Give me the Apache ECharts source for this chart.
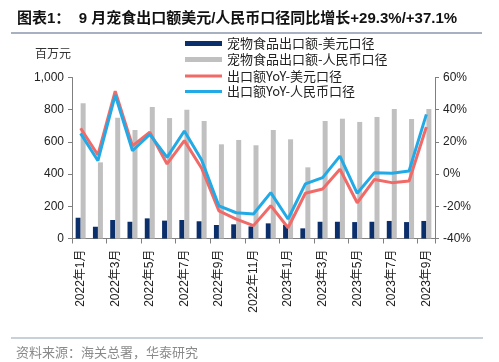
<!DOCTYPE html>
<html><head><meta charset="utf-8">
<script src="https://cdn.jsdelivr.net/npm/echarts@6/dist/echarts.min.js"></script>
<style>html,body{margin:0;padding:0;background:#fff}#c{width:499px;height:362px}</style>
</head><body><div id="c"></div>
<script>
const categories = ['2022年1月','2022年2月','2022年3月','2022年4月','2022年5月','2022年6月','2022年7月','2022年8月','2022年9月','2022年10月','2022年11月','2022年12月','2023年1月','2023年2月','2023年3月','2023年4月','2023年5月','2023年6月','2023年7月','2023年8月','2023年9月'];
const usdExport = [129,73,115,104,125,111,115,107,84,88,75,94,85,63,104,104,102,104,109,102,109];
const rmbExport = [840,473,750,674,817,748,800,730,585,612,579,674,616,442,730,744,724,755,804,742,804];
const usdYoY = [28.5,11.9,51.5,17.5,26.0,6.3,20.8,3.6,-22.9,-28.0,-32.0,-19.6,-33.3,-11.9,-9.3,3.0,-17.8,-3.3,-5.3,-4.3,29.3];
const rmbYoY = [25.3,8.3,49.1,14.5,24.7,10.4,26.8,8.8,-19.8,-24.0,-24.8,-11.5,-27.9,-6.1,-2.2,11.2,-11.9,0.9,0.5,1.9,37.1];
const leftTicks = {min:0, max:1000, interval:200};
const rightTicks = {min:-40, max:60, interval:20};
const names = ['宠物食品出口额-美元口径','宠物食品出口额-人民币口径','出口额YoY-美元口径','出口额YoY-人民币口径'];

const C_DARK = '#0b2f6b', C_GRAY = '#c0c0c0', C_RED = '#f06a68', C_BLUE = '#22aae6';
const FONT = '"Liberation Sans", Arial, "Noto Sans CJK SC", sans-serif';
const CJK = '"Noto Sans CJK SC", sans-serif';
const axisLine = {show:true, lineStyle:{color:'#7f7f7f', width:1}};

const chart = echarts.init(document.getElementById('c'), null, {renderer:'canvas'});
function legend(name, top, icon, h, color){
  return {show:true, left:185, top:top, orient:'vertical', data:[{name:name, icon:icon, itemStyle:{color:color}}],
    itemWidth:37, itemHeight:h, itemGap:0, padding:0, selectedMode:false,
    textStyle:{fontFamily:CJK, fontSize:13, color:'#222', lineHeight:14, padding:[0,0,0,0]}};
}
chart.setOption({
  animation:false,
  backgroundColor:'#fff',
  title:[
    {text:'图表1：  9 月宠食出口额美元/人民币口径同比增长+29.3%/+37.1%', left:12, top:6,
     textStyle:{fontFamily:FONT, fontSize:15, fontWeight:'bold', color:'#111'}},
    {text:'百万元', left:30, top:42, textStyle:{fontFamily:CJK, fontSize:12, fontWeight:'normal', color:'#333'}},
    {text:'资料来源：海关总署，华泰研究', left:11, top:341, textStyle:{fontFamily:CJK, fontSize:13, fontWeight:'normal', color:'#8a8a8a'}}
  ],
  graphic:[
    {type:'line', shape:{x1:11,y1:33,x2:482,y2:33}, style:{stroke:'#a7b1bf', lineWidth:2}},
    {type:'line', shape:{x1:11,y1:338,x2:483,y2:338}, style:{stroke:'#b6c2ce', lineWidth:1.5}}
  ],
  legend:[
    legend(names[0], 36.5, 'rect', 5, C_DARK),
    legend(names[1], 52.5, 'rect', 5, C_GRAY),
    legend(names[2], 69, 'rect', 3, C_RED),
    legend(names[3], 84.5, 'rect', 3, C_BLUE)
  ],
  grid:{left:72, right:64, top:77.5, bottom:123.5, containLabel:false},
  xAxis:{type:'category', data:categories, boundaryGap:true,
    axisLine:axisLine, axisTick:{show:true, interval:1, length:5, lineStyle:{color:'#7f7f7f'}},
    axisLabel:{interval:1, rotate:90, margin:11, fontFamily:FONT, fontSize:12, color:'#222'},
    splitLine:{show:false}},
  yAxis:[
    {type:'value', min:leftTicks.min, max:leftTicks.max, interval:leftTicks.interval, position:'left',
     axisLine:axisLine, axisTick:{show:true, length:4, lineStyle:{color:'#7f7f7f'}},
     axisLabel:{margin:8, fontFamily:FONT, fontSize:12, color:'#222'}, splitLine:{show:false}},
    {type:'value', min:rightTicks.min, max:rightTicks.max, interval:rightTicks.interval, position:'right',
     axisLine:axisLine, axisTick:{show:true, length:4, lineStyle:{color:'#7f7f7f'}},
     axisLabel:{margin:8, fontFamily:FONT, fontSize:12, color:'#222', formatter:'{value}%'}, splitLine:{show:false}}
  ],
  series:[
    {name:names[0], type:'bar', data:usdExport, barWidth:5, barGap:'0%', itemStyle:{color:C_DARK}},
    {name:names[1], type:'bar', data:rmbExport, barWidth:5, barGap:'0%', itemStyle:{color:C_GRAY}},
    {name:names[2], type:'line', yAxisIndex:1, data:usdYoY, symbol:'none', lineStyle:{color:C_RED, width:3}, itemStyle:{color:C_RED}},
    {name:names[3], type:'line', yAxisIndex:1, data:rmbYoY, symbol:'none', lineStyle:{color:C_BLUE, width:3}, itemStyle:{color:C_BLUE}}
  ]
});
</script></body></html>
